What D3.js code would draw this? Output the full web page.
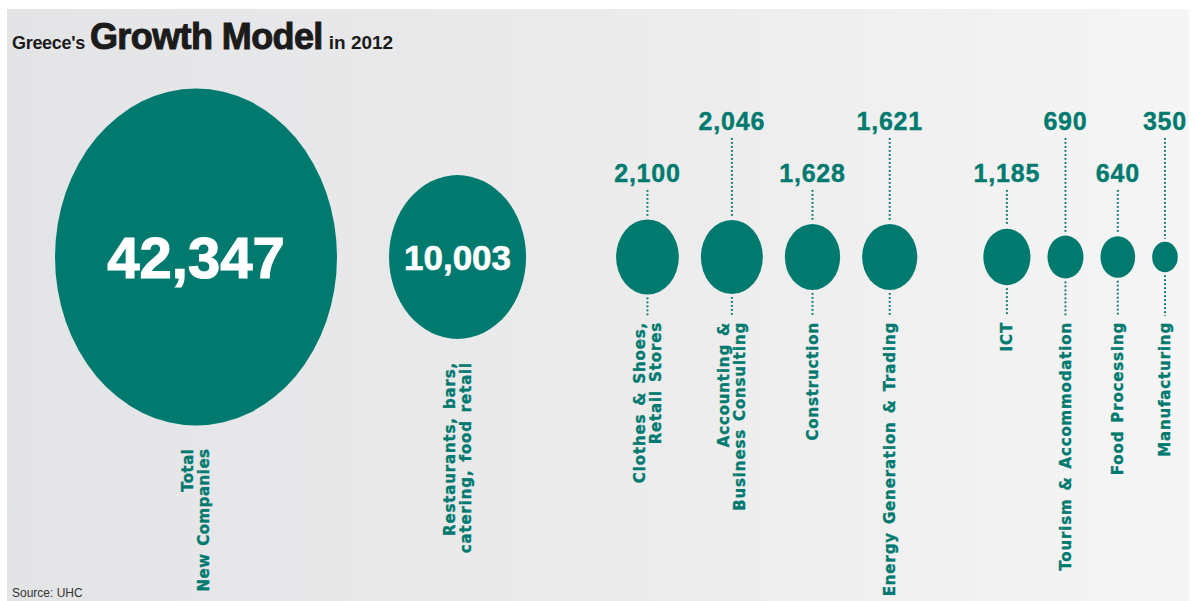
<!DOCTYPE html>
<html>
<head>
<meta charset="utf-8">
<script src="https://cdn.jsdelivr.net/npm/d3@7"></script>
<style>
  html, body { margin: 0; padding: 0; background: #ffffff; }
  svg { display: block; }
</style>
</head>
<body>
<svg id="chart" width="1194" height="601"></svg>
<script>
// ---------------- data ----------------
const categories = [
  "Total New Companies",
  "Restaurants, bars, catering, food retail",
  "Clothes & Shoes, Retail Stores",
  "Accounting & Business Consulting",
  "Construction",
  "Energy Generation & Trading",
  "ICT",
  "Tourism & Accommodation",
  "Food Processing",
  "Manufacturing"
];
const labelLines = [
  ["Total", "New Companies"],
  ["Restaurants, bars,", "catering, food retail"],
  ["Clothes & Shoes,", "Retail Stores"],
  ["Accounting &", "Business Consulting"],
  ["Construction"],
  ["Energy Generation & Trading"],
  ["ICT"],
  ["Tourism & Accommodation"],
  ["Food Processing"],
  ["Manufacturing"]
];
const values = [42347, 10003, 2100, 2046, 1628, 1621, 1185, 690, 640, 350];
const groups = [0, 1, 2, 2, 2, 2, 3, 3, 3, 3];
const titleParts = ["Greece's", "Growth Model", "in 2012"];
const sourceText = "Source: UHC";

// ---------------- layout / style ----------------
const W = 1194, H = 601;
const teal = "#007a6f";
const cy = 257;
const aspect = 1.195;
const leftMargin = 55;
const innerGap = [0, 0, 22, 17];
const groupGap = [0, 52, 90, 66];

const svg = d3.select("#chart");
const defs = svg.append("defs");
const grad = defs.append("linearGradient").attr("id", "bg").attr("x1", "0").attr("x2", "1").attr("y1", "0").attr("y2", "0");
grad.append("stop").attr("offset", "0%").attr("stop-color", "#e3e4e6");
grad.append("stop").attr("offset", "50%").attr("stop-color", "#ebebec");
grad.append("stop").attr("offset", "100%").attr("stop-color", "#f5f5f5");

svg.append("rect").attr("x", 7).attr("y", 9).attr("width", W - 12).attr("height", H - 9).attr("fill", "url(#bg)");

// scales
const rScale = d3.scaleSqrt().domain([0, d3.max(values)]).range([0, 141]);
const fmt = d3.format(",");

// x by packing
const xs = [];
values.forEach((v, i) => {
  if (i === 0) { xs.push(leftMargin + rScale(v)); return; }
  const gap = groups[i] === groups[i - 1] ? innerGap[groups[i]] : groupGap[groups[i]];
  xs.push(xs[i - 1] + rScale(values[i - 1]) + gap + rScale(v));
});

const nodes = values.map((v, i) => ({
  v, i, cat: categories[i], lines: labelLines[i], x: xs[i],
  rx: rScale(v), ry: rScale(v) * aspect, big: groups[i] < 2
}));
const sectors = nodes.filter(d => !d.big);
sectors.forEach((d, k) => { d.high = k % 2 === 1; });

// title
const title = svg.append("text").attr("x", 12).attr("y", 49)
  .attr("font-family", "'Liberation Sans', Arial, sans-serif").attr("font-weight", "bold").attr("fill", "#1b1b1b");
title.append("tspan").attr("font-size", 18).attr("letter-spacing", -0.3).text(titleParts[0]);
title.append("tspan").attr("dx", 5).attr("font-size", 36).attr("letter-spacing", -0.6).attr("stroke", "#1b1b1b").attr("stroke-width", 1).text(titleParts[1]);
title.append("tspan").attr("dx", 6).attr("font-size", 19).text(titleParts[2]);

// dotted lines for sectors
const dotted = svg.append("g").attr("stroke", teal).attr("stroke-width", 2).attr("stroke-dasharray", "1.8 2.2").attr("fill", "none");
sectors.forEach(d => {
  const labelBase = d.high ? 130 : 182;
  dotted.append("line").attr("x1", d.x).attr("x2", d.x).attr("y1", labelBase + 8).attr("y2", cy - d.ry - 3);
  dotted.append("line").attr("x1", d.x).attr("x2", d.x).attr("y1", cy + d.ry + 3).attr("y2", 316);
});

// ellipses
svg.append("g").selectAll("ellipse").data(nodes).join("ellipse")
  .attr("cx", d => d.x).attr("cy", cy)
  .attr("rx", d => d.rx).attr("ry", d => d.ry)
  .attr("fill", teal);

// inside values (big)
svg.append("g").selectAll("text").data(nodes.filter(d => d.big)).join("text")
  .attr("x", d => d.x).attr("y", d => cy + (d.i === 0 ? 58 : 35) * 0.36)
  .attr("text-anchor", "middle")
  .attr("font-family", "'Liberation Sans', Arial, sans-serif").attr("font-weight", "bold")
  .attr("font-size", d => d.i === 0 ? 58 : 35)
  .attr("stroke", "#ffffff").attr("stroke-width", d => d.i === 0 ? 1.2 : 0.6)
  .attr("fill", "#ffffff")
  .text(d => fmt(d.v));

// values above (sectors)
svg.append("g").selectAll("text").data(sectors).join("text")
  .attr("x", d => d.x).attr("y", d => d.high ? 130 : 182)
  .attr("text-anchor", "middle")
  .attr("font-family", "'Liberation Sans', Arial, sans-serif").attr("font-weight", "bold")
  .attr("font-size", 25).attr("letter-spacing", 0.8)
  .attr("stroke", teal).attr("stroke-width", 0.4)
  .attr("fill", teal)
  .text(d => fmt(d.v));

// category labels (rotated)
const lineGap = 16;
const lab = svg.append("g")
  .attr("font-family", "'DejaVu Sans', sans-serif").attr("font-weight", "bold")
  .attr("font-size", 15).attr("letter-spacing", 0.85).attr("word-spacing", 2)
  .attr("stroke", teal).attr("stroke-width", 0.35)
  .attr("fill", teal);
nodes.forEach(d => {
  const top = d.big ? cy + d.ry + 23 : 322;
  const n = d.lines.length;
  d.lines.forEach((t, k) => {
    const lx = d.x + (k - (n - 1) / 2) * lineGap;
    lab.append("text")
      .attr("transform", `translate(${lx},${top}) rotate(-90)`)
      .attr("text-anchor", "end").attr("dy", "0.36em")
      .attr("letter-spacing", d.i === 0 ? 0.5 : null)
      .text(t);
  });
});

// source
svg.append("text").attr("x", 12).attr("y", 597)
  .attr("font-family", "'Liberation Sans Narrow', 'Liberation Sans', Arial, sans-serif")
  .attr("font-size", 12).attr("fill", "#333").text(sourceText);
</script>
</body>
</html>
